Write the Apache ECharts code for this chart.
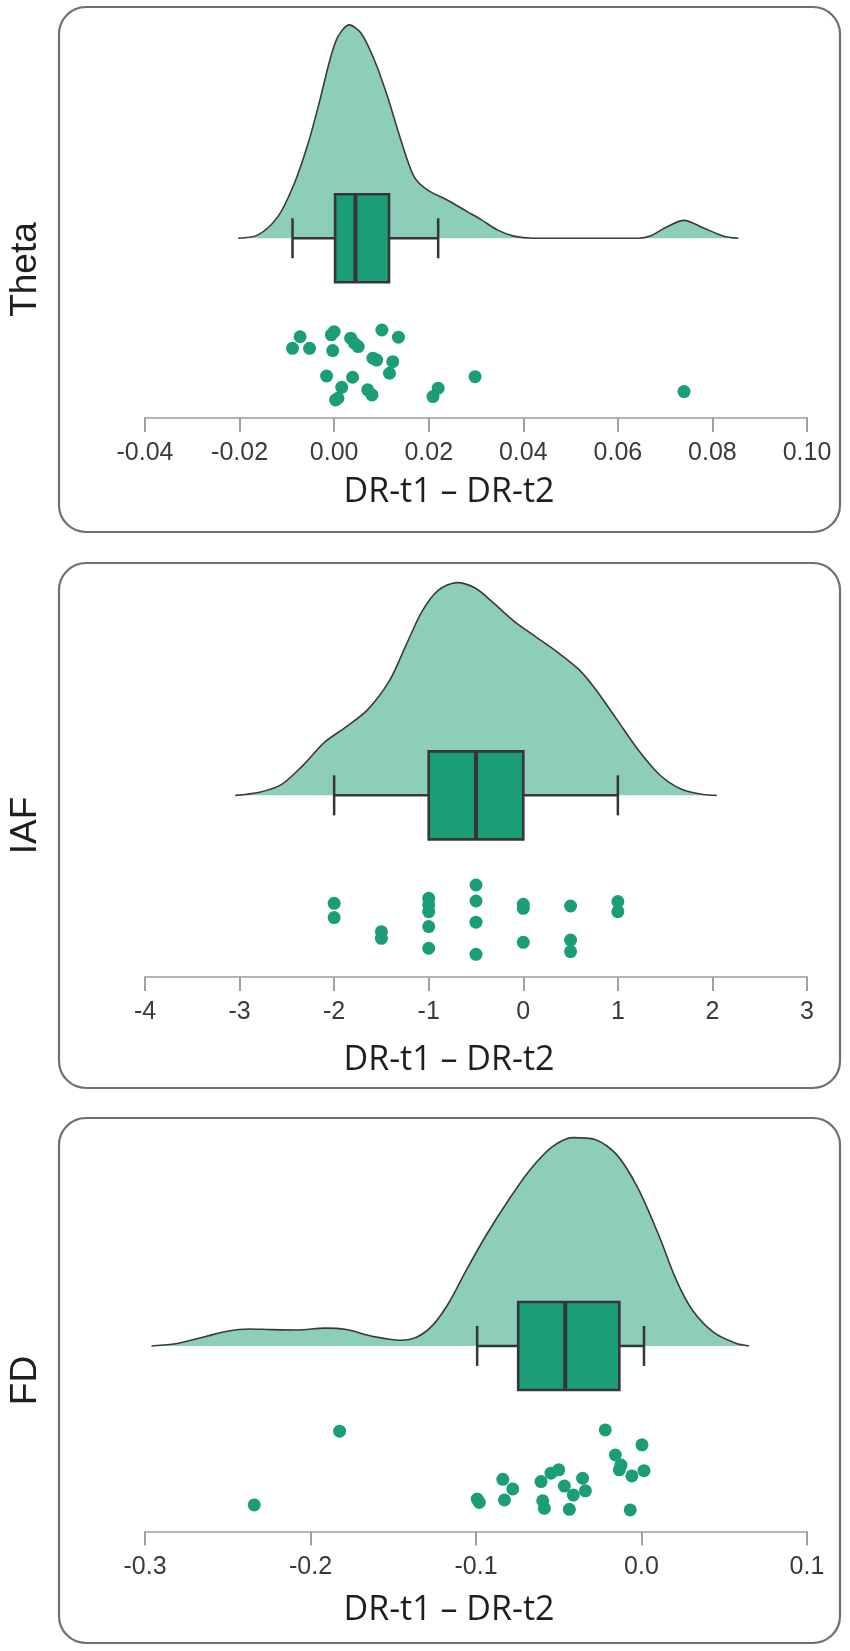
<!DOCTYPE html>
<html>
<head>
<meta charset="utf-8">
<script src="https://cdn.jsdelivr.net/npm/echarts@6/dist/echarts.min.js"></script>
<style>
  html, body { margin: 0; padding: 0; background: #fff; }
  #chart { width: 850px; height: 1651px; }
</style>
</head>
<body>
<div id="chart"></div>
<script>
// ---- data ----
var panelNames = ['Theta', 'IAF', 'FD'];
var axisTitle = 'DR-t1 \u2013 DR-t2';

// Theta
var thetaDensX = [-0.0203, -0.0161, -0.0119, -0.0084, -0.0055, -0.0030, -0.0009, 0.0008, 0.0032, 0.0057, 0.0085, 0.0113, 0.0141, 0.0169, 0.0197, 0.0239, 0.0281, 0.0310, 0.0345, 0.0380, 0.0420, 0.0643, 0.0670, 0.0700, 0.0740, 0.0780, 0.0826, 0.0855];
var thetaDensY = [0, 0.016, 0.103, 0.262, 0.452, 0.659, 0.849, 0.960, 1.016, 0.976, 0.849, 0.674, 0.468, 0.293, 0.230, 0.182, 0.127, 0.090, 0.040, 0.010, 0, 0, 0.012, 0.050, 0.085, 0.050, 0.008, 0];
var thetaBox = [-0.0088, 0.0002, 0.0045, 0.0116, 0.0220]; // whisker lo, q1, median, q3, whisker hi
var thetaPtsX = [-0.0072, -0.0088, -0.0052, -0.0006, 0.0000, -0.0003, 0.0035, 0.0043, 0.0051, 0.0101, 0.0136, 0.0082, 0.0090, 0.0124, 0.0117, -0.0016, 0.0039, 0.0016, 0.0008, 0.0003, 0.0071, 0.0080, 0.0220, 0.0209, 0.0298, 0.0740];
var thetaPtsY = [-0.469, -0.524, -0.524, -0.460, -0.445, -0.535, -0.476, -0.500, -0.516, -0.437, -0.471, -0.571, -0.580, -0.588, -0.643, -0.656, -0.662, -0.710, -0.762, -0.770, -0.722, -0.746, -0.714, -0.754, -0.659, -0.730];

// IAF
var iafDensX = [-3.045, -2.788, -2.559, -2.330, -2.100, -1.873, -1.645, -1.415, -1.244, -1.072, -0.900, -0.700, -0.500, -0.328, -0.100, 0.129, 0.358, 0.587, 0.758, 0.987, 1.216, 1.444, 1.673, 1.900, 2.045];
var iafDensY = [0, 0.015, 0.051, 0.143, 0.253, 0.326, 0.408, 0.546, 0.711, 0.875, 0.976, 1.013, 0.985, 0.921, 0.830, 0.756, 0.683, 0.600, 0.509, 0.363, 0.216, 0.097, 0.029, 0.004, 0];
var iafBox = [-2, -1, -0.5, 0, 1];
var iafPtsX = [-2, -2, -1.5, -1.5, -1, -1, -1, -1, -1, -0.5, -0.5, -0.5, -0.5, 0, 0, 0, 0.5, 0.5, 0.5, 1, 1];
var iafPtsY = [-0.514, -0.582, -0.649, -0.681, -0.490, -0.522, -0.554, -0.625, -0.728, -0.427, -0.503, -0.604, -0.757, -0.519, -0.538, -0.700, -0.527, -0.689, -0.744, -0.506, -0.554];

// FD
var fdDensX = [-0.2961, -0.2797, -0.2634, -0.2503, -0.2373, -0.2242, -0.2078, -0.1915, -0.1784, -0.1621, -0.1458, -0.1360, -0.1261, -0.1163, -0.1065, -0.0935, -0.0804, -0.0673, -0.0542, -0.0412, -0.0281, -0.0150, -0.0020, 0.0111, 0.0209, 0.0307, 0.0438, 0.0569, 0.0650];
var fdDensY = [0, 0.013, 0.045, 0.070, 0.081, 0.078, 0.076, 0.085, 0.078, 0.045, 0.027, 0.041, 0.099, 0.207, 0.352, 0.532, 0.694, 0.839, 0.947, 0.992, 0.983, 0.911, 0.749, 0.514, 0.316, 0.171, 0.063, 0.013, 0];
var fdBox = [-0.0993, -0.0745, -0.0461, -0.0134, 0.0015];
var fdPtsX = [-0.0993, -0.0980, -0.0838, -0.0778, -0.0828, -0.0607, -0.0597, -0.0587, -0.0547, -0.0500, -0.0466, -0.0412, -0.0356, -0.0339, -0.0436, -0.0219, -0.0158, -0.0124, -0.0134, -0.0058, 0.0003, 0.0015, -0.0068, -0.1824, -0.2340];
var fdPtsY = [-0.729, -0.745, -0.635, -0.681, -0.733, -0.646, -0.737, -0.773, -0.606, -0.590, -0.667, -0.710, -0.630, -0.690, -0.778, -0.400, -0.519, -0.567, -0.590, -0.619, -0.471, -0.594, -0.781, -0.406, -0.757];

// axis ranges and tick labels
var xMin = [-0.04, -4, -0.3];
var xMax = [0.10, 3, 0.1];
var xStep = [0.02, 1, 0.1];
var xDecimals = [2, 0, 1];

// ---- layout ----
var panelTop = [7, 563, 1118];
var panelH = 525;
var axisY = [418, 977, 1531.6];
var yMin = [-0.856, -0.865, -0.884];
var ySpan = 1.95;
var gridH = 409.5;
var titleY = [492, 1060, 1610];

var GREEN = '#1b9e77';
var LIGHT = '#8dcebb';
var DARK = '#363636';

function zip(a, b) {
    return a.map(function (v, i) { return [v, b[i]]; });
}

var dens = [[thetaDensX, thetaDensY], [iafDensX, iafDensY], [fdDensX, fdDensY]];
var boxes = [thetaBox, iafBox, fdBox];
var pts = [[thetaPtsX, thetaPtsY], [iafPtsX, iafPtsY], [fdPtsX, fdPtsY]];

function renderBox(params, api) {
    var lo = api.coord([api.value(0), 0]);
    var q1 = api.coord([api.value(1), 0]);
    var md = api.coord([api.value(2), 0]);
    var q3 = api.coord([api.value(3), 0]);
    var hi = api.coord([api.value(4), 0]);
    var y = lo[1];
    var hb = 44, hc = 20;
    var ls = { stroke: DARK, lineWidth: 2.5 };
    return {
        type: 'group',
        children: [
            { type: 'line', shape: { x1: lo[0], y1: y, x2: q1[0], y2: y }, style: ls },
            { type: 'line', shape: { x1: q3[0], y1: y, x2: hi[0], y2: y }, style: ls },
            { type: 'line', shape: { x1: lo[0], y1: y - hc, x2: lo[0], y2: y + hc }, style: ls },
            { type: 'line', shape: { x1: hi[0], y1: y - hc, x2: hi[0], y2: y + hc }, style: ls },
            { type: 'rect', shape: { x: q1[0], y: y - hb, width: q3[0] - q1[0], height: hb * 2 },
              style: { fill: GREEN, stroke: DARK, lineWidth: 2.6 } },
            { type: 'line', shape: { x1: md[0], y1: y - hb, x2: md[0], y2: y + hb },
              style: { stroke: DARK, lineWidth: 4 } }
        ]
    };
}

var grids = [], xAxes = [], yAxes = [], series = [], graphics = [];

for (var i = 0; i < 3; i++) {
    grids.push({ left: 145, right: 43, top: axisY[i] - gridH, height: gridH });
    (function (dec) {
        xAxes.push({
            type: 'value', gridIndex: i,
            min: xMin[i], max: xMax[i], interval: xStep[i],
            axisLine: { onZero: false, lineStyle: { color: '#b4b4b4', width: 2 } },
            axisTick: { length: 14, lineStyle: { color: '#a0a0a0', width: 2 } },
            splitLine: { show: false },
            axisLabel: {
                margin: 23, fontSize: 25, color: '#3a3a3a',
                fontFamily: 'Liberation Sans, Arial, sans-serif',
                formatter: function (v) {
                    if (Math.abs(v) < 1e-9) v = 0;
                    return v.toFixed(dec);
                }
            }
        });
    })(xDecimals[i]);
    yAxes.push({ type: 'value', gridIndex: i, min: yMin[i], max: yMin[i] + ySpan, show: false });

    series.push({
        type: 'line', xAxisIndex: i, yAxisIndex: i,
        data: zip(dens[i][0], dens[i][1]),
        smooth: 0.3, showSymbol: false,
        lineStyle: { color: '#3a3a3a', width: 1.6 },
        areaStyle: { color: LIGHT, opacity: 1 },
        z: 1
    });
    series.push({
        type: 'custom', xAxisIndex: i, yAxisIndex: i,
        renderItem: renderBox,
        data: [boxes[i].concat([0])],
        encode: { x: [0, 1, 2, 3, 4], y: 5 },
        z: 3
    });
    series.push({
        type: 'scatter', xAxisIndex: i, yAxisIndex: i,
        data: zip(pts[i][0], pts[i][1]),
        symbolSize: 13,
        itemStyle: { color: GREEN, opacity: 1 },
        z: 4
    });

    graphics.push({
        type: 'rect', z: 0,
        shape: { x: 59, y: panelTop[i], width: 781, height: panelH, r: 27 },
        style: { fill: 'none', stroke: '#707070', lineWidth: 2.2 }
    });
    graphics.push({
        type: 'text', x: 449, y: titleY[i],
        style: { text: axisTitle, font: '34px "Open Sans", sans-serif', fill: '#1e1e1e',
                 textAlign: 'center', textVerticalAlign: 'middle' }
    });
    graphics.push({
        type: 'text', x: 26, y: panelTop[i] + panelH / 2, rotation: Math.PI / 2,
        style: { text: panelNames[i], font: '37px "Liberation Sans", Arial, sans-serif', fill: '#1e1e1e',
                 textAlign: 'center', textVerticalAlign: 'middle' }
    });
}

var chart = echarts.init(document.getElementById('chart'), null, { renderer: 'canvas' });
chart.setOption({
    animation: false,
    backgroundColor: '#fff',
    grid: grids,
    xAxis: xAxes,
    yAxis: yAxes,
    series: series,
    graphic: graphics
});
</script>
</body>
</html>
